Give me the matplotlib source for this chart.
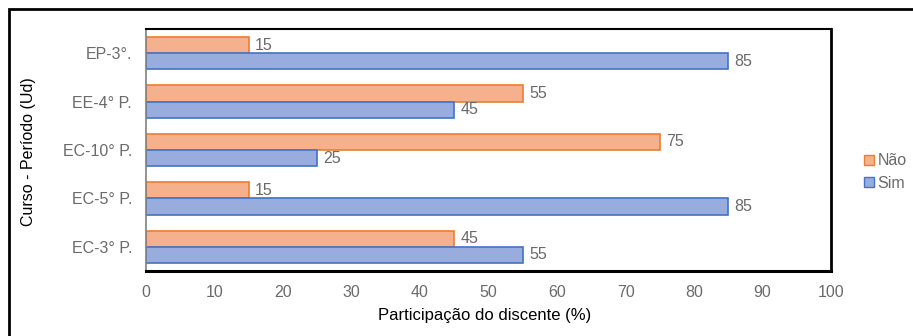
import matplotlib.pyplot as plt
import numpy as np
from matplotlib.patches import Rectangle
from matplotlib.lines import Line2D

plt.rcParams['font.family'] = ['Liberation Sans', 'DejaVu Sans']

cursos = ['EC-3° P.', 'EC-5° P.', 'EC-10° P.', 'EE-4° P.', 'EP-3°.']
nao = [45, 15, 75, 55, 15]
sim = [55, 85, 25, 45, 85]

cor_nao, borda_nao = '#F5B08E', '#ED7D31'
cor_sim, borda_sim = '#98ACDD', '#4472C4'
cinza = '#6a6a6a'

fig = plt.figure(figsize=(9.13, 3.36), dpi=100)
ax = fig.add_axes([146 / 913, 1 - 271 / 336, (831 - 146) / 913, (271 - 29) / 336])

y = np.arange(len(cursos))
h = 0.335
b_nao = ax.barh(y + h / 2, nao, height=h, color=cor_nao, edgecolor=borda_nao, linewidth=1.2)
b_sim = ax.barh(y - h / 2, sim, height=h, color=cor_sim, edgecolor=borda_sim, linewidth=1.2)

for bars in (b_nao, b_sim):
    for r in bars:
        v = r.get_width()
        ax.text(v + 0.9, r.get_y() + r.get_height() / 2, f'{v:g}', va='center', ha='left',
                fontsize=11.5, color=cinza)

ax.set_xlim(0, 100)
ax.set_ylim(-0.5, len(cursos) - 0.5)
ax.set_xticks(range(0, 101, 10))
ax.set_yticks(y)
ax.set_yticklabels(cursos)
ax.tick_params(axis='both', length=0, labelsize=11.5, labelcolor=cinza)
ax.tick_params(axis='y', pad=10)
ax.tick_params(axis='x', pad=10)

for s in ('top', 'right', 'bottom'):
    ax.spines[s].set_color('black')
ax.spines['top'].set_linewidth(1.5)
ax.spines['right'].set_linewidth(2)
ax.spines['bottom'].set_linewidth(2.2)
ax.spines['left'].set_color('#808080')
ax.spines['left'].set_linewidth(1.2)

ax.set_xlabel('Participação do discente (%)', fontsize=12)
ax.xaxis.set_label_coords(0.494, -0.152)
fig.text(28 / 913, 1 - 152 / 336, 'Curso - Período (Ud)', rotation=90, fontsize=11.5,
         va='center', ha='center')

# legenda
handles = [Line2D([], [], marker='s', ls='none', markersize=7, markerfacecolor=cor_nao,
                  markeredgecolor=borda_nao),
           Line2D([], [], marker='s', ls='none', markersize=7, markerfacecolor=cor_sim,
                  markeredgecolor=borda_sim)]
leg = fig.legend(handles, ['Não', 'Sim'], loc='center left',
                 bbox_to_anchor=(855 / 913, 1 - 172 / 336), frameon=False, fontsize=11.5,
                 handlelength=0.8, handletextpad=0.1, labelspacing=0.45, borderpad=0)
for t in leg.get_texts():
    t.set_color(cinza)

# moldura externa
fig.patches.append(Rectangle((9 / 913, -0.1), 1.2, 1 - 9 / 336 + 0.1, transform=fig.transFigure,
                             fill=False, edgecolor='black', linewidth=2, zorder=0))

fig.savefig('out.png', dpi=100)
